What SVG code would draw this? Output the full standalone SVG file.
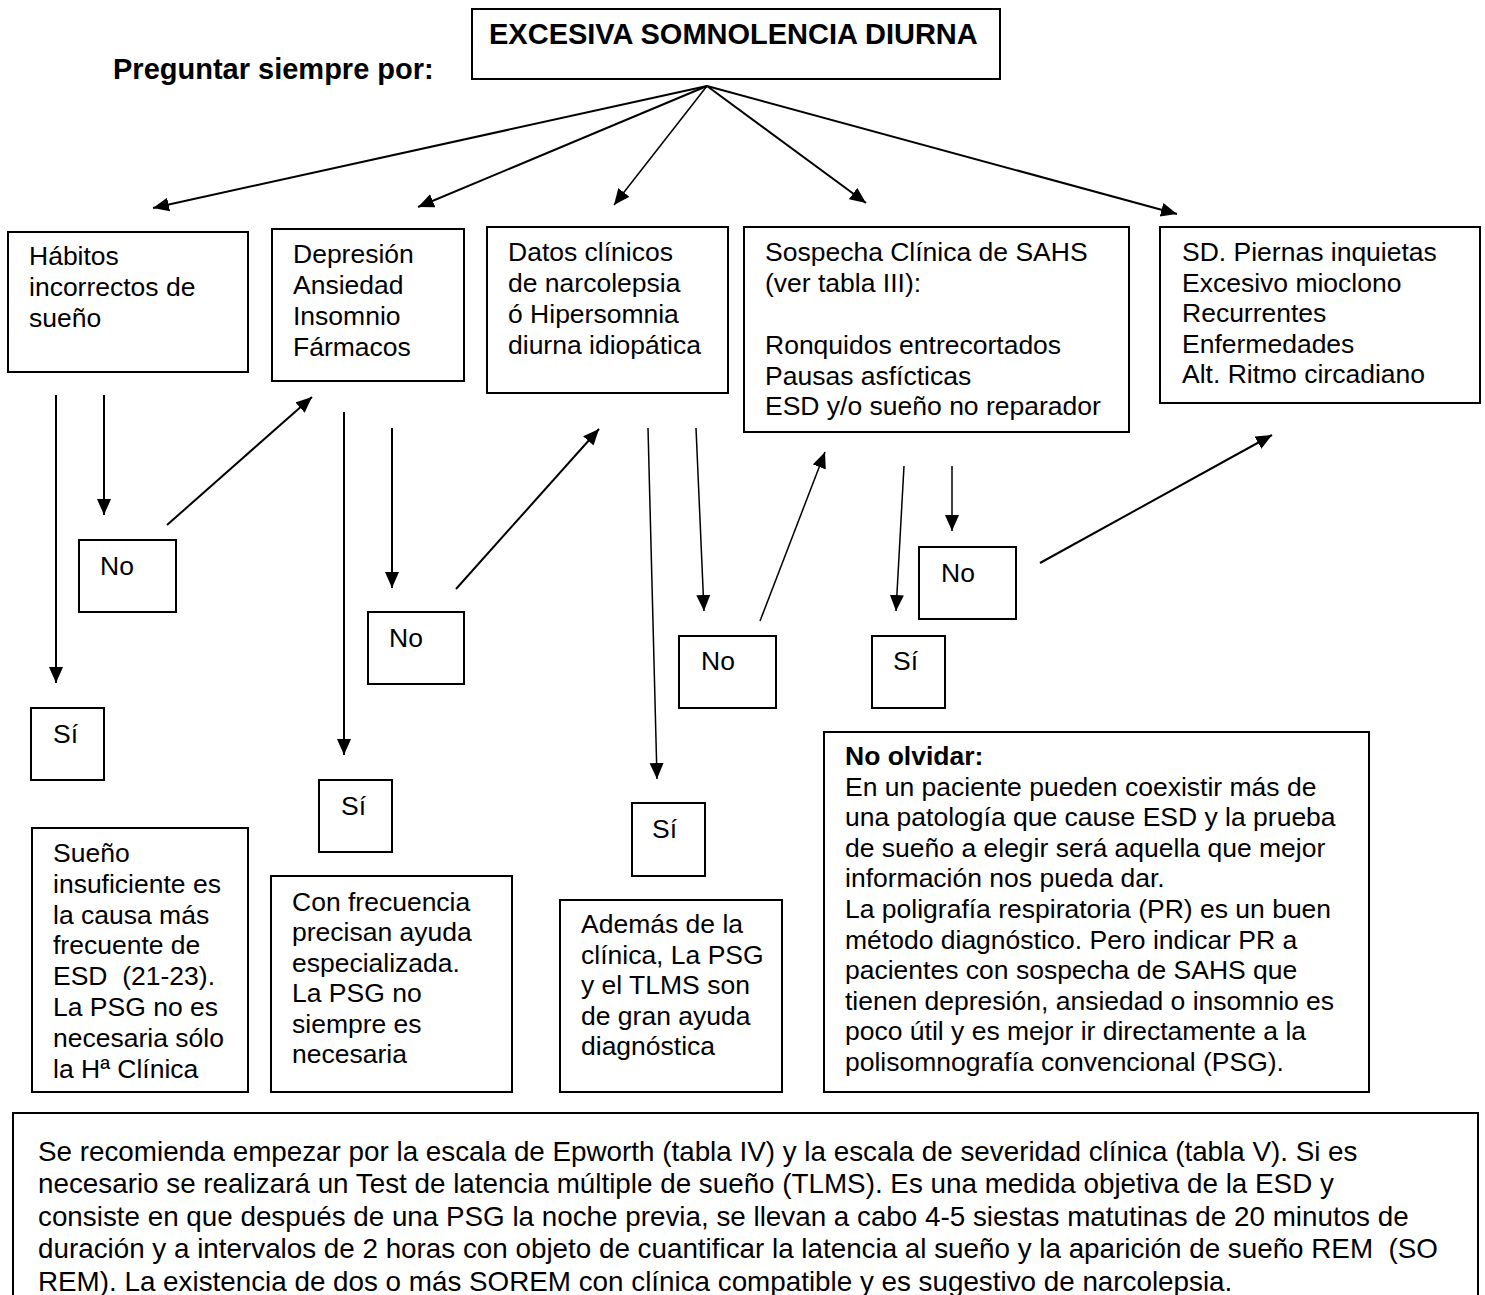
<svg xmlns="http://www.w3.org/2000/svg" width="1485" height="1295" viewBox="0 0 1485 1295">
<style>
.bx{fill:#fff;stroke:#000;stroke-width:2}
.t{font-family:"Liberation Sans",Arial,sans-serif;font-size:26.5px;fill:#000}
.tb{font-family:"Liberation Sans",Arial,sans-serif;font-size:27.8px;fill:#000}
.h{font-family:"Liberation Sans",Arial,sans-serif;font-size:29px;font-weight:bold;fill:#000}
.c{fill:none;stroke:#000;stroke-width:2;marker-end:url(#ah)}
.c2{fill:none;stroke:#000;stroke-width:1.5;marker-end:url(#ah)}
</style>
<defs>
<marker id="ah" markerUnits="userSpaceOnUse" markerWidth="17" markerHeight="15" refX="16" refY="7" orient="auto">
<path d="M0,0 L16,7 L0,14 z" fill="#000"/>
</marker>
</defs>
<rect width="1485" height="1295" fill="#fff"/>

<g id="label-preguntar"><text class="h" x="113" y="79">Preguntar siempre por:</text></g>

<g id="n-title"><rect class="bx" x="472" y="9" width="528" height="70"/><text class="h" x="489" y="44">EXCESIVA SOMNOLENCIA DIURNA</text></g>

<g id="n-habitos"><rect class="bx" x="8" y="232" width="240" height="140"/>
<text class="t" x="29" y="265"><tspan x="29">Hábitos</tspan><tspan x="29" dy="31">incorrectos de</tspan><tspan x="29" dy="31">sueño</tspan></text></g>

<g id="n-depresion"><rect class="bx" x="272" y="229" width="192" height="152"/>
<text class="t" y="263"><tspan x="293">Depresión</tspan><tspan x="293" dy="31">Ansiedad</tspan><tspan x="293" dy="31">Insomnio</tspan><tspan x="293" dy="31">Fármacos</tspan></text></g>

<g id="n-datos"><rect class="bx" x="487" y="227" width="241" height="166"/>
<text class="t" y="261"><tspan x="508">Datos clínicos</tspan><tspan x="508" dy="31">de narcolepsia</tspan><tspan x="508" dy="31">ó Hipersomnia</tspan><tspan x="508" dy="31">diurna idiopática</tspan></text></g>

<g id="n-sospecha"><rect class="bx" x="744" y="227" width="385" height="205"/>
<text class="t" y="261"><tspan x="765">Sospecha Clínica de SAHS</tspan><tspan x="765" dy="31">(ver tabla III):</tspan><tspan x="765" dy="62">Ronquidos entrecortados</tspan><tspan x="765" dy="30.5">Pausas asfícticas</tspan><tspan x="765" dy="30.5">ESD y/o sueño no reparador</tspan></text></g>

<g id="n-sd"><rect class="bx" x="1160" y="227" width="320" height="176"/>
<text class="t" y="261"><tspan x="1182">SD. Piernas inquietas</tspan><tspan x="1182" dy="30.5">Excesivo mioclono</tspan><tspan x="1182" dy="30.5">Recurrentes</tspan><tspan x="1182" dy="30.5">Enfermedades</tspan><tspan x="1182" dy="30.5">Alt. Ritmo circadiano</tspan></text></g>

<g id="n-no1"><rect class="bx" x="79" y="540" width="97" height="72"/><text class="t" x="100" y="575">No</text></g>
<g id="n-si1"><rect class="bx" x="31" y="708" width="73" height="72"/><text class="t" x="53" y="743">Sí</text></g>
<g id="n-no2"><rect class="bx" x="368" y="612" width="96" height="72"/><text class="t" x="389" y="647">No</text></g>
<g id="n-si2"><rect class="bx" x="319" y="780" width="73" height="72"/><text class="t" x="341" y="815">Sí</text></g>
<g id="n-no3"><rect class="bx" x="679" y="636" width="97" height="72"/><text class="t" x="701" y="670">No</text></g>
<g id="n-si3"><rect class="bx" x="632" y="803" width="73" height="73"/><text class="t" x="652" y="838">Sí</text></g>
<g id="n-no4"><rect class="bx" x="919" y="547" width="97" height="72"/><text class="t" x="941" y="582">No</text></g>
<g id="n-si4"><rect class="bx" x="872" y="636" width="73" height="72"/><text class="t" x="893" y="670">Sí</text></g>

<g id="n-sueno"><rect class="bx" x="32" y="828" width="216" height="264"/>
<text class="t" y="862" xml:space="preserve"><tspan x="53">Sueño</tspan><tspan x="53" dy="30.8">insuficiente es</tspan><tspan x="53" dy="30.8">la causa más</tspan><tspan x="53" dy="30.8">frecuente de</tspan><tspan x="53" dy="30.8">ESD  (21-23).</tspan><tspan x="53" dy="30.8">La PSG no es</tspan><tspan x="53" dy="30.8">necesaria sólo</tspan><tspan x="53" dy="30.8">la Hª Clínica</tspan></text></g>

<g id="n-confrec"><rect class="bx" x="271" y="876" width="241" height="216"/>
<text class="t" y="911"><tspan x="292">Con frecuencia</tspan><tspan x="292" dy="30.4">precisan ayuda</tspan><tspan x="292" dy="30.4">especializada.</tspan><tspan x="292" dy="30.4">La PSG no</tspan><tspan x="292" dy="30.4">siempre es</tspan><tspan x="292" dy="30.4">necesaria</tspan></text></g>

<g id="n-ademas"><rect class="bx" x="560" y="900" width="222" height="192"/>
<text class="t" y="933"><tspan x="581">Además de la</tspan><tspan x="581" dy="30.5">clínica, La PSG</tspan><tspan x="581" dy="30.5">y el TLMS son</tspan><tspan x="581" dy="30.5">de gran ayuda</tspan><tspan x="581" dy="30.5">diagnóstica</tspan></text></g>

<g id="n-noolvidar"><rect class="bx" x="824" y="732" width="545" height="360"/>
<text class="t" y="765"><tspan x="845" font-weight="bold">No olvidar:</tspan><tspan x="845" dy="30.6">En un paciente pueden coexistir más de</tspan><tspan x="845" dy="30.6">una patología que cause ESD y la prueba</tspan><tspan x="845" dy="30.6">de sueño a elegir será aquella que mejor</tspan><tspan x="845" dy="30.6">información nos pueda dar.</tspan><tspan x="845" dy="30.6">La poligrafía respiratoria (PR) es un buen</tspan><tspan x="845" dy="30.6">método diagnóstico. Pero indicar PR a</tspan><tspan x="845" dy="30.6">pacientes con sospecha de SAHS que</tspan><tspan x="845" dy="30.6">tienen depresión, ansiedad o insomnio es</tspan><tspan x="845" dy="30.6">poco útil y es mejor ir directamente a la</tspan><tspan x="845" dy="30.6">polisomnografía convencional (PSG).</tspan></text></g>

<g id="n-bottom"><rect class="bx" x="13" y="1113" width="1465" height="200"/>
<text class="tb" y="1161" xml:space="preserve"><tspan x="38">Se recomienda empezar por la escala de Epworth (tabla IV) y la escala de severidad clínica (tabla V). Si es</tspan><tspan x="38" dy="32.4">necesario se realizará un Test de latencia múltiple de sueño (TLMS). Es una medida objetiva de la ESD y</tspan><tspan x="38" dy="32.4">consiste en que después de una PSG la noche previa, se llevan a cabo 4-5 siestas matutinas de 20 minutos de</tspan><tspan x="38" dy="32.4">duración y a intervalos de 2 horas con objeto de cuantificar la latencia al sueño y la aparición de sueño REM  (SO</tspan><tspan x="38" dy="32.4">REM). La existencia de dos o más SOREM con clínica compatible y es sugestivo de narcolepsia.</tspan></text></g>

<g id="connectors">
<path class="c" d="M707,86 L153,208"/>
<path class="c" d="M707,86 L418,207"/>
<path class="c2" d="M707,86 L614,205"/>
<path class="c" d="M707,86 L866,203"/>
<path class="c" d="M707,86 L1177,214"/>
<path class="c" d="M56,395 L56,683"/>
<path class="c" d="M104,395 L104,515"/>
<path class="c" d="M167,525 L312,397"/>
<path class="c" d="M344,412 L344,755"/>
<path class="c" d="M392,428 L392,588"/>
<path class="c" d="M456,589 L599,429"/>
<path class="c2" d="M648,428 L657,779"/>
<path class="c2" d="M696,428 L704,611"/>
<path class="c2" d="M760,621 L825,452"/>
<path class="c2" d="M904,466 L896,611"/>
<path class="c2" d="M952,466 L952,531"/>
<path class="c" d="M1040,563 L1272,435"/>
</g>
</svg>
